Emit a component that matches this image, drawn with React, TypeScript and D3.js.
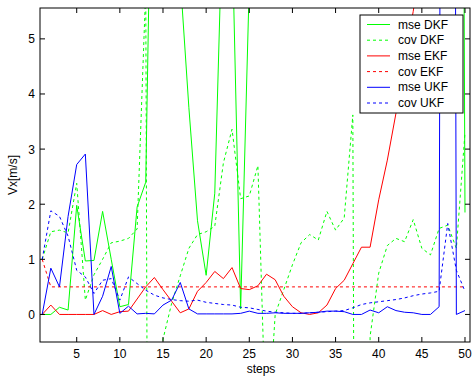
import React from 'react';
import * as d3 from 'd3';

const steps = [1, 2, 3, 4, 5, 6, 7, 8, 9, 10, 11, 12, 13, 14, 15, 16, 17, 18, 19, 20, 21, 22, 23, 24, 25, 26, 27, 28, 29, 30, 31, 32, 33, 34, 35, 36, 37, 38, 39, 40, 41, 42, 43, 44, 45, 46, 47, 48, 49, 50];

const mseDKF = [0, 0, 0.13, 0.08, 1.98, 0.97, 0.98, 1.87, 1.0, 0.14, 0.18, 1.95, 2.4, 11.8, 10.5, 8.5, 6.1, 3.75, 1.7, 0.71, 2.2, 7.8, 7.0, 0.1, 6.0, 9, 10, 11, 10, 9, 10, 11, 12, 11, 10, 11, 12, 11, 10, 11, 12, 11, 10, 11, 12, 11, 10, 12, 40, 1.85];
const covDKF = [1.0, 1.5, 1.53, 1.48, 2.38, 0.26, 0.72, 1.0, 1.3, 1.33, 1.38, 1.55, 5.9, -40, -0.45, 0.2, 0.7, 1.2, 1.45, 1.5, 1.6, 2.75, 3.36, 2.1, 2.15, 2.7, -2.5, 0.0, 0.45, 0.9, 1.3, 1.45, 1.35, 1.87, 1.53, 1.75, 3.62, -40, -0.4, 0.75, 1.25, 1.38, 1.32, 1.72, 1.2, 1.08, 1.56, 1.62, 1.2, 3.3];
const mseEKF = [0, 0.17, 0, 0, 0, 0, 0, 0.07, 0, 0.05, 0.06, 0.28, 0.5, 0.67, 0.45, 0.24, 0.03, 0.1, 0.42, 0.58, 0.78, 0.65, 0.85, 0.47, 0.45, 0.52, 0.73, 0.63, 0.33, 0.14, 0.03, 0, 0.03, 0.17, 0.47, 0.62, 0.92, 1.22, 1.22, 2.08, 2.8, 3.65, 4.6, 5.5, 6.5, 7.5, 8, 8.5, 9, 9.5];
const covEKF = [1.0, 0.5, 0.5, 0.5, 0.5, 0.5, 0.5, 0.5, 0.5, 0.5, 0.5, 0.5, 0.5, 0.5, 0.5, 0.5, 0.5, 0.5, 0.5, 0.5, 0.5, 0.5, 0.5, 0.5, 0.5, 0.5, 0.5, 0.5, 0.5, 0.5, 0.5, 0.5, 0.5, 0.5, 0.5, 0.5, 0.5, 0.5, 0.5, 0.5, 0.5, 0.5, 0.5, 0.5, 0.5, 0.5, 0.5, 0.5, 0.5, 0.5];
const mseUKF = [0, 0.84, 0.5, 1.78, 2.72, 2.91, 0, 0.33, 0.87, 0.02, 0.15, 0.01, 0.02, 0.01, 0.17, 0.26, 0.58, 0.1, 0.01, 0.01, 0.01, 0.01, 0.01, 0.02, 0.06, 0.02, 0.02, 0.03, 0.02, 0.02, 0.02, 0.03, 0.04, 0.06, 0.06, 0.05, 0.0, 0.0, 0.08, 0.03, 0.14, 0.07, 0.04, 0.03, 0.0, 0.0, 0.14, 60, 0.0, 0.07];
const covUKF = [1.0, 1.88, 1.78, 1.42, 0.8, 0.68, 0.38, 0.62, 0.65, 0.26, 0.68, 0.56, 0.44, 0.35, 0.3, 0.27, 0.25, 0.24, 0.26, 0.22, 0.2, 0.18, 0.17, 0.13, 0.12, 0.09, 0.06, 0.04, 0.03, 0.02, 0.02, 0.03, 0.04, 0.05, 0.06, 0.07, 0.12, 0.18, 0.21, 0.23, 0.25, 0.27, 0.3, 0.34, 0.37, 0.39, 0.42, 1.65, 0.8, 0.42];

const seriesNames = ['mse DKF', 'cov DKF', 'mse EKF', 'cov EKF', 'mse UKF', 'cov UKF'];
const xTicks = [5, 10, 15, 20, 25, 30, 35, 40, 45, 50];
const yTicks = [0, 1, 2, 3, 4, 5];
const xLabel = 'steps';
const yLabel = 'Vx[m/s]';

const FONT = '"Liberation Sans", Arial, sans-serif';

export default function App() {
  const left = 40, right = 470, top = 8, bottom = 342;
  const x = d3.scaleLinear().domain([0.745, 50.58]).range([left, right]);
  const y = d3.scaleLinear().domain([-0.5, 5.56]).range([bottom, top]);
  const lineGen = d3.line<number>().x((_, i) => x(steps[i])).y((d) => y(d));

  const series = [
    { name: seriesNames[0], values: mseDKF, color: '#00ff00', dash: undefined },
    { name: seriesNames[1], values: covDKF, color: '#00ff00', dash: '3,3' },
    { name: seriesNames[2], values: mseEKF, color: '#ff0000', dash: undefined },
    { name: seriesNames[3], values: covEKF, color: '#ff0000', dash: '3,3' },
    { name: seriesNames[4], values: mseUKF, color: '#0000ff', dash: undefined },
    { name: seriesNames[5], values: covUKF, color: '#0000ff', dash: '3,3' },
  ];

  const tickLen = 5;
  const legX = 360, legY = 15, legW = 103, legH = 98;

  return (
    <svg width={473} height={377} style={{ position: 'absolute', left: 0, top: 0, background: '#fff' }}>
      <defs>
        <clipPath id="plotClip">
          <rect x={left} y={top} width={right - left} height={bottom - top} />
        </clipPath>
      </defs>
      <rect x={0} y={0} width={473} height={377} fill="#fff" />
      <g clipPath="url(#plotClip)">
        {series.map((s) => (
          <path key={s.name} d={lineGen(s.values) || ''} fill="none" stroke={s.color}
            strokeWidth={1} strokeDasharray={s.dash} />
        ))}
      </g>
      <rect x={left} y={top} width={right - left} height={bottom - top} fill="none" stroke="#000" strokeWidth={1} />
      {xTicks.map((t) => (
        <g key={'x' + t}>
          <line x1={x(t)} x2={x(t)} y1={bottom} y2={bottom - tickLen} stroke="#000" />
          <line x1={x(t)} x2={x(t)} y1={top} y2={top + tickLen} stroke="#000" />
          <text x={x(t)} y={358} fontSize={12} fontFamily={FONT} textAnchor="middle">{t}</text>
        </g>
      ))}
      {yTicks.map((t) => (
        <g key={'y' + t}>
          <line x1={left} x2={left + tickLen} y1={y(t)} y2={y(t)} stroke="#000" />
          <line x1={right} x2={right - tickLen} y1={y(t)} y2={y(t)} stroke="#000" />
          <text x={35} y={y(t) + 4.5} fontSize={12} fontFamily={FONT} textAnchor="end">{t}</text>
        </g>
      ))}
      <text x={261} y={373} fontSize={12} fontFamily={FONT} textAnchor="middle">{xLabel}</text>
      <text transform={`translate(17,175) rotate(-90)`} fontSize={12} fontFamily={FONT} textAnchor="middle">{yLabel}</text>
      <rect x={legX} y={legY} width={legW} height={legH} fill="#fff" stroke="#000" strokeWidth={1} />
      {series.map((s, i) => {
        const ly = legY + 9.5 + i * 15.7;
        return (
          <g key={'leg' + s.name}>
            <line x1={367} x2={390} y1={ly} y2={ly} stroke={s.color} strokeWidth={1} strokeDasharray={s.dash} />
            <text x={398} y={ly + 4} fontSize={12} fontFamily={FONT}>{s.name}</text>
          </g>
        );
      })}
    </svg>
  );
}
